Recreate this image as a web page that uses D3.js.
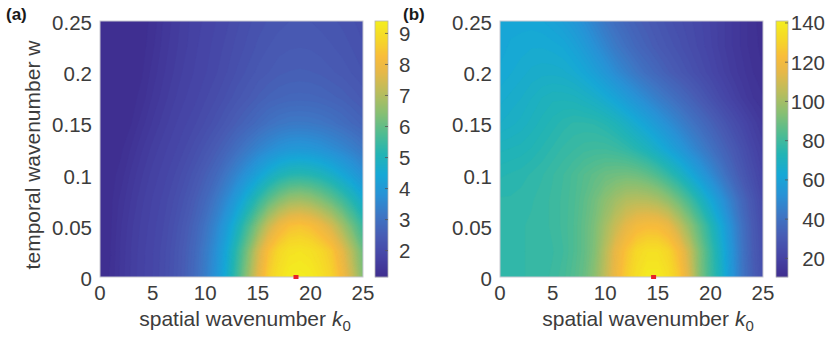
<!DOCTYPE html>
<html><head><meta charset="utf-8">
<script src="https://cdn.jsdelivr.net/npm/d3@7"></script>
<style>
body{margin:0;background:#fff}
svg{display:block}
text{font-family:"Liberation Sans",Arial,Helvetica,sans-serif;fill:#3c3c3c}
</style>
</head><body>
<svg id="chart" width="828" height="341"></svg>
<script>
// ---------------- data ----------------
const kValues = [0,1,2,3,4,5,6,7,8,9,10,11,12,13,14,15,16,17,18,19,20,21,22,23,24,25];
const wValues = [0,0.025,0.05,0.075,0.1,0.125,0.15,0.175,0.2,0.225,0.25];
const xTickValues = [0,5,10,15,20,25];
const yTickValues = [0,0.05,0.1,0.15,0.2,0.25];
const yTickLabels = ["0","0.05","0.1","0.15","0.2","0.25"];
const colorTicksA = [2,3,4,5,6,7,8,9];
const colorTicksB = [20,40,60,80,100,120,140];
const colorRangeA = [1.15,9.4];
const colorRangeB = [10.5,141];
const peakKA = 18.63;
const peakKB = 14.6;
// rows: w = 0 ... 0.25 ; columns: k = 0 ... 25
const gridA = [
 [1.2,1.25,1.46,1.63,1.77,1.88,2.04,2.25,2.51,2.84,3.3,3.84,4.58,5.5,6.54,7.7,8.6,9.06,9.32,9.38,9.3,9.07,8.72,8.14,7.31,6.35],
 [1.2,1.24,1.45,1.62,1.76,1.87,2.02,2.23,2.48,2.79,3.23,3.73,4.42,5.3,6.26,7.38,8.3,8.82,9.08,9.13,9.05,8.83,8.5,7.8,6.97,6.1],
 [1.2,1.22,1.42,1.59,1.73,1.84,1.97,2.16,2.39,2.67,3.05,3.5,4.07,4.79,5.59,6.42,7.28,7.92,8.3,8.4,8.26,7.94,7.48,6.82,6.11,5.45],
 [1.2,1.21,1.37,1.53,1.68,1.8,1.91,2.07,2.26,2.5,2.78,3.17,3.6,4.12,4.72,5.33,5.91,6.37,6.7,6.78,6.66,6.38,6.03,5.6,5.12,4.6],
 [1.2,1.2,1.28,1.46,1.6,1.74,1.83,1.96,2.12,2.31,2.54,2.79,3.14,3.5,3.87,4.27,4.66,4.98,5.16,5.21,5.14,4.99,4.75,4.44,4.13,3.8],
 [1.2,1.2,1.22,1.35,1.51,1.64,1.76,1.85,1.97,2.12,2.29,2.48,2.69,2.95,3.2,3.45,3.65,3.83,3.95,3.98,3.94,3.84,3.69,3.54,3.36,3.16],
 [1.2,1.2,1.2,1.24,1.39,1.53,1.65,1.77,1.86,1.96,2.08,2.22,2.38,2.54,2.69,2.85,3.01,3.12,3.19,3.2,3.18,3.12,3.04,2.92,2.79,2.67],
 [1.2,1.2,1.2,1.2,1.28,1.44,1.56,1.68,1.78,1.85,1.96,2.06,2.18,2.31,2.42,2.54,2.64,2.7,2.74,2.75,2.74,2.71,2.65,2.59,2.5,2.41],
 [1.2,1.2,1.2,1.2,1.23,1.37,1.5,1.61,1.72,1.8,1.87,1.96,2.06,2.17,2.27,2.37,2.43,2.5,2.53,2.54,2.53,2.5,2.45,2.4,2.33,2.25],
 [1.2,1.2,1.2,1.2,1.2,1.31,1.46,1.57,1.67,1.77,1.84,1.92,2.0,2.1,2.18,2.27,2.34,2.39,2.42,2.43,2.42,2.39,2.35,2.3,2.24,2.17],
 [1.2,1.2,1.2,1.2,1.2,1.27,1.43,1.54,1.65,1.75,1.81,1.88,1.95,2.04,2.13,2.2,2.26,2.31,2.34,2.35,2.34,2.31,2.27,2.23,2.17,2.11]
];
const gridB = [
 [77,77,77,77.5,78,79,81,84,88,95,106,118,128,135,139.5,139.5,135,127,112,93,80,69,55,42,33,26],
 [77,77,77,77.5,78,78.5,80,83,87,93,104,116,125,132,135,135,131,122,108,92,79,67,54,41.5,32,25.5],
 [76.5,76.5,77,77.5,78,79,80.5,83,87,92,100,108,115,120,122,121.5,117,107,96,85,74,63,51,40,31,24.5],
 [76,76,76.5,77,78,79,80.5,82.5,86,90,95,99.5,103,104,103.5,101,96,89,81,72,63,54,45,36,29,23],
 [74,74.5,75,76,77,78.5,80,82,84.5,86.5,88.5,89.5,90,89,86.5,82.5,77,71,64,57,50,43,36,30,25,20.5],
 [71,71.5,72,73,74.5,76,77.5,78.5,79.5,80,80,79,77,74,70.5,66,61,56,50.5,45.5,40.5,35.5,31,26.5,22,18.5],
 [67,68,69,70.5,72,73.5,75,76,76,75.5,74,71.5,68,64,60,55.5,51,46.5,42,38,34,30,26,22.5,19,16],
 [65,66,67,68.5,70,71,71,70.5,69,67,64,60.5,56.5,52.5,48.5,44.5,41,37.5,34,30.5,27,23.5,20.5,17.5,15,13.5],
 [63,64,65,66,66.5,66.5,66,64.5,62,58.5,54.5,50,46,42,38.5,35.5,32.5,30,27.5,25,22.5,20,17.5,15.5,13.5,12],
 [62,63,63.5,64,64,63.5,62.5,60,56.5,52,47.5,43,39.5,36,33.5,31,29,27,25,23,21,18.5,16.5,14.5,12.5,11.5],
 [61.5,62,62,62,61.5,60,58,55,51,46.5,42,38.5,35.5,33,31,29,27,25.5,24,22.5,20.5,18.5,16.5,14.5,12.5,11]
];

// ---------------- style ----------------
const cmapPos = [0,0.08,0.16,0.24,0.32,0.40,0.48,0.56,0.64,0.72,0.80,0.86,0.92,1.0];
const cmapCol = ["rgb(63,45,143)","rgb(70,68,165)","rgb(72,92,180)","rgb(62,118,196)","rgb(40,146,214)",
 "rgb(22,168,214)","rgb(34,180,180)","rgb(80,188,145)","rgb(135,191,115)","rgb(185,189,92)",
 "rgb(230,184,72)","rgb(248,188,58)","rgb(246,212,42)","rgb(244,238,30)"];

const svg = d3.select("#chart");
const H0 = 21, H1 = 277;
const TICK_FS = 20.5;
const panels = [
  {x0:100, x1:363, cb0:375, cb1:388, grid:gridA, range:colorRangeA, cticks:colorTicksA, peak:peakKA,
   label:"(a)", labelX:6, xlabelX:245, ylabel:true, cbAnchor:"start", cbLabelX:399},
  {x0:500, x1:763, cb0:776, cb1:788, grid:gridB, range:colorRangeB, cticks:colorTicksB, peak:peakKB,
   label:"(b)", labelX:403, xlabelX:648, ylabel:false, cbAnchor:"end", cbLabelX:825}
];

const defs = svg.append("defs");

panels.forEach((p, pi) => {
  const g = svg.append("g");
  const x = d3.scaleLinear().domain([kValues[0], kValues[kValues.length-1]]).range([p.x0, p.x1]);
  const y = d3.scaleLinear().domain([wValues[0], wValues[wValues.length-1]]).range([H1, H0]);
  const tNorm = d3.scaleLinear().domain(p.range).range([0,1]).clamp(true);
  const cmap = d3.scaleLinear().domain(cmapPos).range(cmapCol).interpolate(d3.interpolateRgb);
  const color = v => cmap(tNorm(v));

  const nk = kValues.length, nw = wValues.length;
  const idxK = d3.scaleLinear().domain([0, nk-1]).range([kValues[0], kValues[nk-1]]);
  const idxW = d3.scaleLinear().domain([0, nw-1]).range([wValues[0], wValues[nw-1]]);
  const values = p.grid.flat();
  const nLev = 90;
  const step = (p.range[1]-p.range[0]) / nLev;
  const thresholds = d3.range(nLev).map(i => p.range[0] + step * i);
  const contours = d3.contours().size([nk, nw]).smooth(true).thresholds(thresholds)(values);
  const proj = d3.geoTransform({point: function(cx, cy){ this.stream.point(x(idxK(cx-0.5)), y(idxW(cy-0.5))); }});
  const path = d3.geoPath(proj);

  const clipId = "clip"+pi;
  defs.append("clipPath").attr("id", clipId).append("rect")
    .attr("x", p.x0).attr("y", H0).attr("width", p.x1-p.x0).attr("height", H1-H0);

  g.append("g").attr("clip-path", `url(#${clipId})`)
    .selectAll("path").data(contours).join("path")
    .attr("d", path)
    .attr("fill", (d,i) => color(thresholds[i] + step * 0.5))
    .attr("stroke", (d,i) => color(thresholds[i] + step * 0.5))
    .attr("stroke-width", 0.4);

  // axes box
  g.append("rect").attr("x", p.x0).attr("y", H0).attr("width", p.x1-p.x0).attr("height", H1-H0)
    .attr("fill","none").attr("stroke","#c9c9d2").attr("stroke-width",1);

  // x tick labels
  g.selectAll(".xt").data(xTickValues).join("text")
    .attr("x", d => x(d)).attr("y", 300)
    .attr("text-anchor","middle").attr("font-size", TICK_FS).text(d => d);
  // y tick labels
  g.selectAll(".yt").data(yTickValues).join("text")
    .attr("x", p.x0 - 8).attr("y", d => y(d) + 9)
    .attr("text-anchor","end").attr("font-size", TICK_FS).text((d,i) => yTickLabels[i]);

  // red marker
  g.append("rect").attr("x", x(p.peak)-2.5).attr("y", y(0)-2).attr("width",5).attr("height",4)
    .attr("fill","#e8202a");

  // x label
  const xl = g.append("text").attr("x", p.xlabelX).attr("y", 326).attr("text-anchor","middle").attr("font-size", 21);
  xl.append("tspan").text("spatial wavenumber ");
  xl.append("tspan").attr("font-style","italic").text("k");
  xl.append("tspan").attr("font-size", 15).attr("dy", 5).text("0");

  if (p.ylabel) {
    g.append("text").attr("transform", `translate(40,${(H0+H1)/2 + 6}) rotate(-90)`)
      .attr("text-anchor","middle").attr("font-size", 21).text("temporal wavenumber w");
  }

  // panel label
  g.append("text").attr("x", p.labelX).attr("y", 20).attr("font-size", 17)
    .attr("font-weight","bold").style("fill","#1a1a1a").text(p.label);

  // colorbar
  const cy = d3.scaleLinear().domain(p.range).range([H1, H0]);
  const cbRows = d3.range(H0, H1, 1);
  g.selectAll(".cb").data(cbRows).join("rect")
    .attr("x", p.cb0).attr("y", d => d).attr("width", p.cb1-p.cb0).attr("height", 1.2)
    .attr("fill", d => color(cy.invert(d + 0.5)));
  g.append("rect").attr("x", p.cb0).attr("y", H0).attr("width", p.cb1-p.cb0).attr("height", H1-H0)
    .attr("fill","none").attr("stroke","#b5b5b5").attr("stroke-width",0.8);
  g.selectAll(".ct").data(p.cticks).join("line")
    .attr("x1", p.cb1-3).attr("x2", p.cb1).attr("y1", d => cy(d)).attr("y2", d => cy(d))
    .attr("stroke","#555").attr("stroke-width",0.8);
  g.selectAll(".cl").data(p.cticks).join("text")
    .attr("x", p.cbLabelX).attr("y", d => cy(d) + 7.5)
    .attr("text-anchor", p.cbAnchor)
    .attr("font-size", TICK_FS).text(d => d);
});
</script>
</body></html>
